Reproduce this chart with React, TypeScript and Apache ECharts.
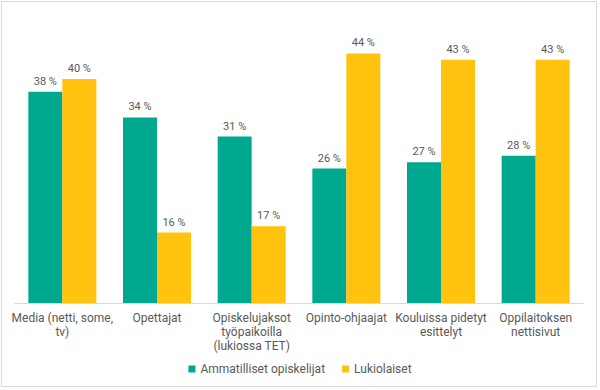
import React, { useEffect, useRef } from "react";
import * as echarts from "echarts";

const categories = [
  "Media (netti, some,\ntv)",
  "Opettajat",
  "Opiskelujaksot\ntyöpaikoilla\n(lukiossa TET)",
  "Opinto-ohjaajat",
  "Kouluissa pidetyt\nesittelyt",
  "Oppilaitoksen\nnettisivut",
];
const seriesNames = ["Ammatilliset opiskelijat", "Lukiolaiset"];
const ammatilliset = [38, 34, 31, 26, 27, 28];
const lukiolaiset = [40, 16, 17, 44, 43, 43];

const GREEN = "#00A88F";
const YELLOW = "#FFC20F";
const TEXT = "#595959";
const FONT = "Roboto, 'Noto Sans', sans-serif";

export default function App() {
  const ref = useRef<HTMLDivElement>(null);
  useEffect(() => {
    if (!ref.current) return;
    const chart = echarts.init(ref.current, undefined, { renderer: "svg" });
    const label = {
      show: true,
      position: "top",
      distance: 5,
      color: TEXT,
      fontSize: 11,
      fontFamily: FONT,
      formatter: "{c} %",
    };
    chart.setOption({
      animation: false,
      backgroundColor: "#ffffff",
      textStyle: { fontFamily: FONT },
      graphic: [
        {
          type: "rect",
          shape: { x: 1.5, y: 1.5, width: 595, height: 385 },
          style: { fill: "none", stroke: "#d9d9d9", lineWidth: 1 },
          silent: true,
        },
      ],
      grid: { left: 15, right: 17, top: 15, bottom: 87, containLabel: false },
      legend: {
        data: seriesNames,
        bottom: 10,
        left: "center",
        icon: "rect",
        itemWidth: 7,
        itemHeight: 7,
        itemGap: 17,
        textStyle: { color: TEXT, fontSize: 12, fontFamily: FONT },
      },
      xAxis: {
        type: "category",
        data: categories,
        axisLine: { lineStyle: { color: "#d9d9d9" } },
        axisTick: { show: false },
        axisLabel: {
          color: TEXT,
          fontSize: 12,
          fontFamily: FONT,
          lineHeight: 14,
          margin: 8,
          interval: 0,
        },
      },
      yAxis: {
        type: "value",
        min: 5,
        max: 50,
        show: false,
        splitLine: { show: false },
      },
      series: [
        {
          name: seriesNames[0],
          type: "bar",
          data: ammatilliset,
          barWidth: 34,
          barGap: "0%",
          itemStyle: { color: GREEN },
          label,
        },
        {
          name: seriesNames[1],
          type: "bar",
          data: lukiolaiset,
          barWidth: 34,
          itemStyle: { color: YELLOW },
          label,
        },
      ],
    });
    return () => chart.dispose();
  }, []);
  return (
    <div
      ref={ref}
      style={{ position: "absolute", left: 0, top: 0, width: 600, height: 390 }}
    />
  );
}
